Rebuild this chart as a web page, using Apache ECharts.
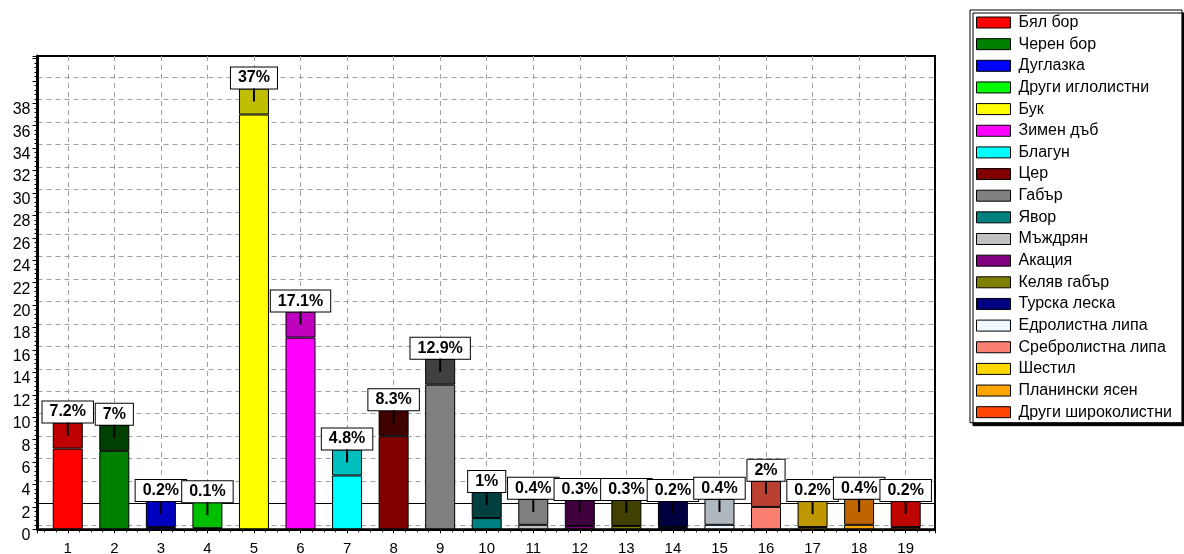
<!DOCTYPE html>
<html><head><meta charset="utf-8">
<script src="https://cdn.jsdelivr.net/npm/echarts@6/dist/echarts.min.js"></script>
<style>html,body{margin:0;padding:0;background:#fff}#c{width:1184px;height:554px}</style>
</head><body><div id="c"></div>
<script>
const categories = ['1','2','3','4','5','6','7','8','9','10','11','12','13','14','15','16','17','18','19'];
const species = ['Бял бор','Черен бор','Дуглазка','Други иглолистни','Бук','Зимен дъб','Благун','Цер','Габър','Явор','Мъждрян','Акация','Келяв габър','Турска леска','Едролистна липа','Сребролистна липа','Шестил','Планински ясен','Други широколистни'];
const values = [7.2, 7, 0.2, 0.1, 37, 17.1, 4.8, 8.3, 12.9, 1, 0.4, 0.3, 0.3, 0.2, 0.4, 2, 0.2, 0.4, 0.2];
const colors = ['#FF0000','#008000','#0000FF','#00FF00','#FFFF00','#FF00FF','#00FFFF','#800000','#808080','#008080','#C0C0C0','#800080','#808000','#000080','#F0F8FF','#FA8072','#FFD700','#FFA500','#FF4500'];
const capHeight = 2.32;      // height of the darker label cap on every bar
const refLineLevel = 2;      // solid reference line (on the grid axis)

function darken(hex){
  const n = parseInt(hex.slice(1),16);
  const r = Math.max(0,(n>>16)-64), g = Math.max(0,((n>>8)&255)-64), b = Math.max(0,(n&255)-64);
  return 'rgb('+r+','+g+','+b+')';
}
const FONT = '"Liberation Sans", Arial, sans-serif';
const xs = categories.map(Number);
const gridLine = {color:'#a0a0a0', type:[5,4], width:1};
// value first so that the y dimension is the stacked one
const barEncode = {x:1, y:0};

const legendSeries = species.map((s,i)=>({
  type:'bar', name:s, data:[], stack:'a', barWidth:30, encode:barEncode,
  itemStyle:{color:colors[i], borderColor:'#000', borderWidth:1}
}));

const option = {
  animation:false,
  backgroundColor:'#fff',
  textStyle:{fontFamily:FONT},
  grid:{left:37.5, right:249, top:56, bottom:24.7, show:true, borderColor:'#000', borderWidth:2, backgroundColor:'#fff', outerBoundsMode:'none'},
  legend:{
    orient:'vertical', left:970, top:10, itemWidth:34, itemHeight:11, itemGap:5.65, icon:'rect',
    data:species, padding:[4.5,10,2.5,6], backgroundColor:'#fff', borderColor:'#000', borderWidth:1,
    shadowColor:'#000', shadowOffsetX:3, shadowOffsetY:3, shadowBlur:0, selectedMode:false,
    textStyle:{fontSize:16, color:'#000', lineHeight:14, padding:[0,0,0,3], fontFamily:FONT},
    itemStyle:{borderColor:'#000', borderWidth:1}
  },
  xAxis:{
    type:'value', min:0.35, max:19.63, splitNumber:19,
    axisLine:{show:true, lineStyle:{color:'#000', width:2}},
    axisTick:{show:true, length:4, lineStyle:{color:'#000'}},
    minorTick:{show:true, splitNumber:4, length:3, lineStyle:{color:'#000'}},
    splitLine:{show:true, showMinLine:false, showMaxLine:false, lineStyle:gridLine},
    axisLabel:{formatter:v=>{const i=xs.indexOf(v); return i>=0?categories[i]:'';}, fontSize:15, margin:12, color:'#000', fontFamily:FONT}
  },
  yAxis:[{
    type:'value', min:0, max:42.22, interval:2, position:'left',
    axisLine:{show:true, lineStyle:{color:'#000', width:3}},
    axisTick:{show:true, length:5, lineStyle:{color:'#000'}},
    minorTick:{show:true, splitNumber:5, length:3, lineStyle:{color:'#000'}},
    splitLine:{show:false},
    axisLabel:{formatter:v=>(v<=38?String(v):''), fontSize:16, color:'#000', margin:7, verticalAlign:'top', lineHeight:13, fontFamily:FONT}
  },{
    type:'value', min:-0.32, max:41.9, splitNumber:21, position:'left',
    axisLine:{show:false}, axisTick:{show:false}, axisLabel:{show:false},
    splitLine:{show:true, showMinLine:false, showMaxLine:false, lineStyle:gridLine}
  }],
  series:[
    ...legendSeries,
    {
      type:'line', name:'ref', yAxisIndex:1, data:[],
      markLine:{silent:true, symbol:'none', z:1, label:{show:false},
        lineStyle:{color:'#000', width:1, type:'solid'}, data:[{yAxis:refLineLevel}]}
    },
    {
      type:'bar', name:'main', stack:'a', barWidth:30, z:2, encode:barEncode,
      itemStyle:{borderColor:'#000', borderWidth:1},
      data: xs.map((x,i)=>({value:[values[i], x], itemStyle:{color:colors[i]}}))
    },
    {
      type:'bar', name:'cap', stack:'a', barWidth:30, z:2, encode:barEncode,
      itemStyle:{borderColor:'#000', borderWidth:1},
      label:{show:true, position:'top', distance:0, formatter:p=>values[p.dataIndex]+'%',
        fontSize:16, fontWeight:'bold', color:'#000', lineHeight:17, padding:[2,7,2,7],
        backgroundColor:'#fff', borderColor:'#000', borderWidth:1, fontFamily:FONT},
      data: xs.map((x,i)=>({value:[capHeight, x], itemStyle:{color:darken(colors[i])}}))
    },
    {
      type:'custom', name:'stem', z:3, silent:true,
      renderItem:(params, api)=>{
        const x = api.value(0), v = api.value(1);
        const a = api.coord([x, v + capHeight]);
        const b = api.coord([x, v + capHeight/2]);
        return {type:'line', shape:{x1:a[0], y1:a[1], x2:b[0], y2:b[1]}, style:{stroke:'#000', lineWidth:2}};
      },
      data: xs.map((x,i)=>[x, values[i]])
    }
  ]
};
const chart = echarts.init(document.getElementById('c'));
chart.setOption(option);
</script>
</body></html>
